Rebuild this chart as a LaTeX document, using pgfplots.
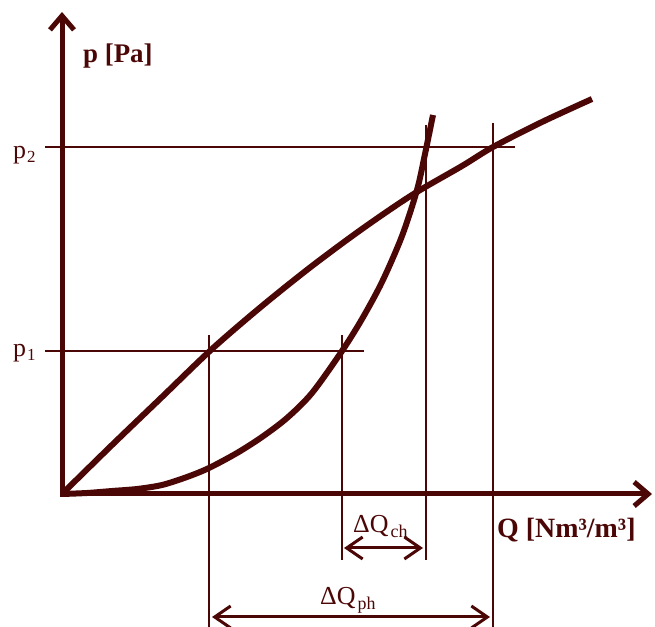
\documentclass[border=0pt]{standalone}
\usepackage{pgfplots}
\pgfplotsset{compat=1.18}
\usepackage{fontspec}
\setmainfont{Liberation Serif}
\usetikzlibrary{arrows.meta}
\definecolor{ink}{RGB}{75,6,6}

\begin{document}
\begin{tikzpicture}
\begin{axis}[
  x=1bp, y=1bp,
  xmin=-62, xmax=593, ymin=-133, ymax=494,
  hide axis, clip=false,
]
\coordinate (bl) at (axis cs:-62,-133);
\coordinate (tr) at (axis cs:593,494);
% guide lines
\addplot[ink, line width=2bp, no marks] coordinates {(-17,347) (453,347)};
\addplot[ink, line width=2bp, no marks] coordinates {(-17,143) (302,143)};
\addplot[ink, line width=2bp, no marks] coordinates {(146.5,159) (146.5,-133)};
\addplot[ink, line width=2bp, no marks] coordinates {(280,159) (280,-66)};
\addplot[ink, line width=2bp, no marks] coordinates {(364,369) (364,-66)};
\addplot[ink, line width=2bp, no marks] coordinates {(431,371) (431,-133)};
% difference arrows
\addplot[ink, line width=3bp, no marks, {Straight Barb[length=16bp,width=22bp]}-{Straight Barb[length=16bp,width=22bp]}]
  coordinates {(282,-54) (361,-54)};
\addplot[ink, line width=3bp, no marks, {Straight Barb[length=16bp,width=22bp]}-{Straight Barb[length=16bp,width=22bp]}]
  coordinates {(150,-123) (428,-123)};
% axes
\addplot[ink, line width=5bp, no marks, -{Straight Barb[length=14bp,width=24bp]}]
  coordinates {(0,-3) (0,482)};
\addplot[ink, line width=5bp, no marks, -{Straight Barb[length=14bp,width=24bp]}]
  coordinates {(-2,0) (590,0)};
% characteristic curves
\addplot[ink, line width=6bp, no marks, smooth] coordinates {
  (0,0) (50,49) (100,97) (150,145) (200,188) (250,228) (300,265)
  (350,299) (400,328) (431,347) (480,372) (530,395)};
\addplot[ink, line width=6bp, no marks, smooth] coordinates {
  (0,0) (25,1) (50,3) (75,5) (100,9) (125,17) (147,26) (175,41)
  (200,57) (225,76) (250,101) (280,143) (300,175) (320,212)
  (340,258) (355,304) (363,340) (371,379)};
% labels
\node[ink, anchor=base west, inner sep=0pt] at (axis cs:21,431)
  {\fontsize{27}{30}\selectfont\bfseries p [Pa]};
\node[ink, anchor=base west, inner sep=0pt] at (axis cs:435,-44)
  {\fontsize{28}{30}\selectfont\bfseries Q [Nm³/m³]};
\node[ink, anchor=base west, inner sep=0pt] at (axis cs:-49,335)
  {\fontsize{26}{28}\selectfont p\kern1bp\raisebox{-4bp}{\fontsize{17}{17}\selectfont 2}};
\node[ink, anchor=base west, inner sep=0pt] at (axis cs:-49,137)
  {\fontsize{26}{28}\selectfont p\kern1bp\raisebox{-4bp}{\fontsize{17}{17}\selectfont 1}};
\node[ink, anchor=base west, inner sep=0pt] at (axis cs:291,-39)
  {\fontsize{26}{28}\selectfont ΔQ\kern2bp\raisebox{-5bp}{\fontsize{18}{18}\selectfont ch}};
\node[ink, anchor=base west, inner sep=0pt] at (axis cs:258,-111)
  {\fontsize{26}{28}\selectfont ΔQ\kern2bp\raisebox{-5bp}{\fontsize{18}{18}\selectfont ph}};
\end{axis}
\pgfresetboundingbox
\path[use as bounding box] (bl) rectangle (tr);
\end{tikzpicture}
\end{document}
